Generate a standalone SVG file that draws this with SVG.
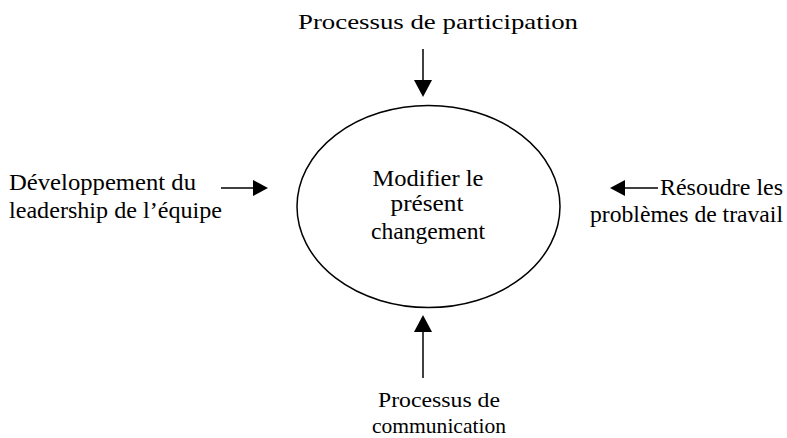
<svg xmlns="http://www.w3.org/2000/svg" width="787" height="438" viewBox="0 0 787 438" font-family="'Liberation Serif', 'Times New Roman', Times, serif">
  <defs>
    <style>
      .lbl { font-size: 24px; fill: #000; }
      .hd { font-size: 21.5px; fill: #000; }
      .conn { stroke: #000; stroke-width: 1.5; fill: none; }
      .head { fill: #000; }
    </style>
  </defs>
  <rect width="787" height="438" fill="#fff"/>

  <g id="connectors">
    <line class="conn" x1="423" y1="49" x2="423" y2="80"/>
    <path class="head" d="M414,80 L432,80 L423,97 Z"/>
    <line class="conn" x1="423" y1="378" x2="423" y2="332"/>
    <path class="head" d="M414,332 L432,332 L423,315 Z"/>
    <line class="conn" x1="221" y1="188" x2="253" y2="188"/>
    <path class="head" d="M253,180 L268,188 L253,196 Z"/>
    <line class="conn" x1="658" y1="188" x2="625" y2="188"/>
    <path class="head" d="M625,180 L610,188 L625,196 Z"/>
  </g>

  <g id="center">
    <ellipse cx="428.5" cy="206.5" rx="131.5" ry="101" fill="none" stroke="#000" stroke-width="1.5"/>
    <text class="lbl" x="428" y="186" text-anchor="middle" textLength="111" lengthAdjust="spacingAndGlyphs">Modifier le</text>
    <text class="lbl" x="427" y="211" text-anchor="middle" textLength="73" lengthAdjust="spacingAndGlyphs">présent</text>
    <text class="lbl" x="428" y="239" text-anchor="middle" textLength="114" lengthAdjust="spacingAndGlyphs">changement</text>
  </g>

  <g id="participation">
    <text class="hd" x="438" y="29" text-anchor="middle" textLength="280" lengthAdjust="spacingAndGlyphs">Processus de participation</text>
  </g>

  <g id="leadership">
    <text class="lbl" x="9" y="190" textLength="187" lengthAdjust="spacingAndGlyphs">Développement du</text>
    <text class="lbl" x="9" y="218" textLength="213" lengthAdjust="spacingAndGlyphs">leadership de l’équipe</text>
  </g>

  <g id="problemes">
    <text class="lbl" x="783" y="195" text-anchor="end" textLength="123" lengthAdjust="spacingAndGlyphs">Résoudre les</text>
    <text class="lbl" x="783" y="222" text-anchor="end" textLength="193" lengthAdjust="spacingAndGlyphs">problèmes de travail</text>
  </g>

  <g id="communication">
    <text class="hd" x="439" y="407" text-anchor="middle" textLength="122" lengthAdjust="spacingAndGlyphs">Processus de</text>
    <text class="hd" x="439" y="433" text-anchor="middle" textLength="134" lengthAdjust="spacingAndGlyphs">communication</text>
  </g>
</svg>
